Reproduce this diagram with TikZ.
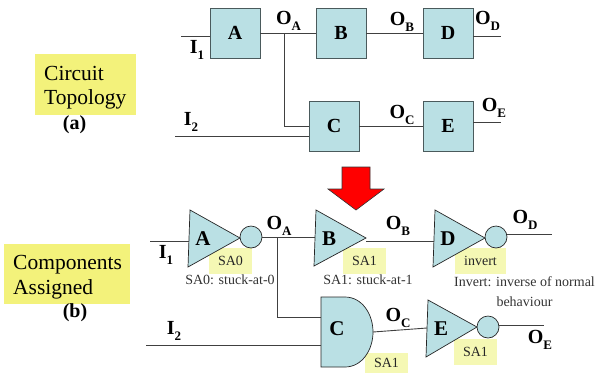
\documentclass[tikz,border=0pt]{standalone}
\usepackage{fontspec}
\setmainfont{Liberation Serif}
\definecolor{gatefill}{HTML}{BAE0E4}
\definecolor{labelyellow}{HTML}{F3F27B}
\definecolor{tagyellow}{HTML}{F5F8B4}
\definecolor{boxedge}{HTML}{4A5A5C}
\tikzset{
  x=1pt,y=-1pt,
  box/.style={draw=boxedge,line width=0.9pt,fill=gatefill,minimum size=50pt,inner sep=0pt,font=\fontsize{20}{20}\selectfont\bfseries},
  gate/.style={draw=black!85,line width=0.7pt,fill=gatefill,line join=miter},
  bubble/.style={circle,draw=black!85,line width=0.7pt,fill=gatefill,minimum size=22pt,inner sep=0pt},
  wire/.style={draw=black!75,line width=0.9pt},
  sig/.style={inner sep=0pt,font=\fontsize{20}{20}\selectfont\bfseries},
  gatelabel/.style={inner sep=0pt,font=\fontsize{21}{21}\selectfont\bfseries},
  sublabel/.style={inner sep=0pt,font=\fontsize{20}{20}\selectfont\bfseries},
  yellowbox/.style={fill=labelyellow,inner sep=0pt},
  yellowtext/.style={inner sep=0pt,anchor=north west,align=left,font=\fontsize{21.5}{25.5}\selectfont},
  tag/.style={fill=tagyellow,inner sep=0pt,font=\fontsize{14}{14}\selectfont,text=black!85},
  note/.style={inner sep=0pt,font=\fontsize{14}{17.5}\selectfont,text=black!80,align=center},
}
\newcommand{\sg}[2]{#1\raisebox{-0.28em}{\fontsize{13}{13}\selectfont #2}}
\begin{document}
\begin{tikzpicture}
\useasboundingbox (0,0) rectangle (597,373);
% ---------- panel (a)
\node[yellowbox,minimum width=101pt,minimum height=61pt] (lblA) at (85.5,84.5) {};
\node[yellowtext] (lblAt) at (44,66) {Circuit\\[-1pt]Topology};
\node[sublabel] (capA) at (74.5,125) {(a)};
\node[box] (A) at (235,33) {A};
\node[box] (B) at (341,33) {B};
\node[box] (D) at (448,33) {D};
\node[box] (C) at (334,126) {C};
\node[box] (E) at (448,126) {E};
\coordinate (i1a) at (181,36);
\coordinate (i2a) at (175,136);
\coordinate (oda) at (501,36);
\coordinate (oea) at (501,122.5);
\coordinate (ja) at (284,33);
\draw[wire] (i1a) -- (i1a -| A.west);
\draw[wire] (A.east |- ja) -- (B.west |- ja);
\draw[wire] (B.east |- ja) -- (D.west |- ja);
\draw[wire] (oda -| D.east) -- (oda);
\draw[wire] (ja) |- (C.west);
\draw[wire] (i2a) -- (i2a -| C.west);
\draw[wire] (C.east) -- (E.west);
\draw[wire] (oea -| E.east) -- (oea);
\node[sig] (l1) at (197,50) {\sg{I}{1}};
\node[sig] (l2) at (191,122) {\sg{I}{2}};
\node[sig] (l3) at (288.5,21) {\sg{O}{A}};
\node[sig] (l4) at (402,22) {\sg{O}{B}};
\node[sig] (l5) at (487.5,21) {\sg{O}{D}};
\node[sig] (l6) at (402,115) {\sg{O}{C}};
\node[sig] (l7) at (494,108) {\sg{O}{E}};
% ---------- red arrow
\path[draw=black!80,fill=red,line width=0.6pt] (342,167) -- (370,167) -- (370,189) -- (384,189) -- (356,210) -- (328,189) -- (342,189) -- cycle;
% ---------- panel (b)
\node[yellowbox,minimum width=126pt,minimum height=60pt] (lblB) at (67,274) {};
\node[yellowtext] (lblBt) at (13,255.5) {Components\\[-1pt]Assigned};
\node[sublabel] (capB) at (75,313) {(b)};
% tags first, gates over them
\node[tag,minimum width=43pt,minimum height=26pt] (t1) at (230.5,261) {SA0};
\node[tag,minimum width=43pt,minimum height=26pt] (t2) at (364.5,261) {SA1};
\node[tag,minimum width=51pt,minimum height=26pt] (t3) at (480.5,261) {invert};
\node[tag,minimum width=43pt,minimum height=20pt,text depth=0pt] (t4) at (386.5,363) {SA1};
\node[tag,minimum width=43pt,minimum height=26pt] (t5) at (475.5,352) {SA1};
% connectors
\coordinate (i1b) at (150,241);
\coordinate (i2b) at (146,345);
\coordinate (jb) at (277,237);
\coordinate (gb) at (315,237);
\coordinate (cin1) at (321,317);
\coordinate (cin2) at (321,345);
\coordinate (bo) at (366,241);
\coordinate (di) at (434,241);
\coordinate (odb) at (552,234);
\coordinate (coo) at (373,332);
\coordinate (ei) at (427,328);
\coordinate (oeb) at (544,325);
% gates
\draw[gate] (190,210) -- (240,238) -- (188,267) -- cycle;
\draw[gate] (316,210) -- (366,238) -- (314,266) -- cycle;
\draw[gate] (435,210) -- (485,238) -- (433,267) -- cycle;
\draw[gate] (428,300) -- (477,327) -- (426,357) -- cycle;
\draw[gate] (321,297) -- (345,297) .. controls (362,297) and (373,314) .. (373,332) .. controls (373,350) and (362,367) .. (345,367) -- (321,367) -- cycle;
\node[bubble] (ba) at (251,237) {};
\node[bubble] (bd) at (496,237) {};
\node[bubble] (be) at (488,327) {};
\draw[wire] (i1b) -- (188.5,241);
\draw[wire] (ba.east) -- (gb);
\draw[wire] (jb) |- (cin1);
\draw[wire] (i2b) -- (cin2);
\draw[wire] (bo) -- (di);
\draw[wire] (bd.east |- odb) -- (odb);
\draw[wire] (coo) -- (ei);
\draw[wire] (be.east |- oeb) -- (oeb);
\node[gatelabel] (ga) at (203,239) {A};
\node[gatelabel] (gb2) at (329,239) {B};
\node[gatelabel] (gd) at (448,239) {D};
\node[gatelabel] (gc) at (337,328.5) {C};
\node[gatelabel] (ge) at (441,328.5) {E};
\node[sig] (m1) at (166,255) {\sg{I}{1}};
\node[sig] (m2) at (174,331) {\sg{I}{2}};
\node[sig] (m3) at (279,226) {\sg{O}{A}};
\node[sig] (m4) at (398,226) {\sg{O}{B}};
\node[sig] (m5) at (525,220) {\sg{O}{D}};
\node[sig] (m6) at (398,318) {\sg{O}{C}};
\node[sig] (m7) at (540,340) {\sg{O}{E}};
\node[note] (n1) at (230,280) {SA0: stuck-at-0};
\node[note] (n2) at (368,280) {SA1: stuck-at-1};
\node[note,anchor=north] (n3) at (524.5,276.5) {Invert: inverse of normal\\[2pt]behaviour};
\end{tikzpicture}
\end{document}
